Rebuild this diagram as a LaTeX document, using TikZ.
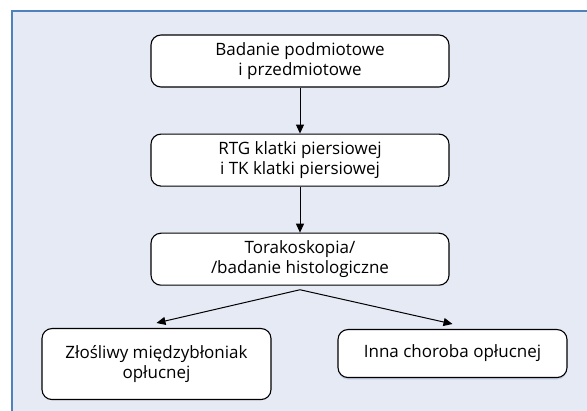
\documentclass[tikz,border=0pt]{standalone}
\usepackage{fontspec}
\setmainfont{Open Sans}
\usepackage[dvipsnames]{xcolor}
\definecolor{panelbg}{RGB}{230,234,245}
\definecolor{panelline}{RGB}{79,129,189}
\definecolor{shadebg}{RGB}{200,210,232}
\usepackage{tikz}
\usetikzlibrary{arrows.meta, positioning, shadows}

\begin{document}
\begin{tikzpicture}[x=1pt, y=-1pt, font=\fontsize{17}{20}\selectfont,
    node distance=46pt,
    stepbox/.style={draw=black, fill=white, rounded corners=10pt,
      line width=1.1pt, align=center, inner sep=4pt,
      minimum width=298pt, minimum height=52pt},
    flow/.style={-{Triangle[length=9pt,width=8pt]}, line width=1pt}]
  \useasboundingbox (0,0) rectangle (587,411);
  % panel
  \fill[panelbg] (12,11) rectangle (587,411);
  \draw[panelline, line width=1.2pt] (12,411) -- (12,11) -- (587,11);

  \node[stepbox] (wywiad) at (300,61) {Badanie podmiotowe\\i przedmiotowe};
  \node[stepbox, below=of wywiad] (obraz)
    {RTG klatki piersiowej\\i TK klatki piersiowej};
  \node[stepbox, below=of obraz] (histo)
    {Torakoskopia/\\/badanie histologiczne};
  \coordinate (split) at ([yshift=-4pt]histo.south);

  \node[stepbox, anchor=north, minimum width=229pt, minimum height=71pt]
    (mesot) at (156.5,328) {Złośliwy międzybłoniak\\opłucnej};
  \node[stepbox, anchor=north, minimum width=229pt, minimum height=48pt,
        drop shadow={shadow xshift=0pt, shadow yshift=-2pt, fill=shadebg,
        opacity=1}]
    (inna) at (452.5,329) {Inna choroba opłucnej};

  \draw[flow] (wywiad) -- (obraz);
  \draw[flow] (obraz) -- (histo);
  \draw[flow] (split) -- ([yshift=5pt]mesot.north);
  \draw[flow] (split) -- ([yshift=5pt]inna.north);
\end{tikzpicture}
\end{document}
